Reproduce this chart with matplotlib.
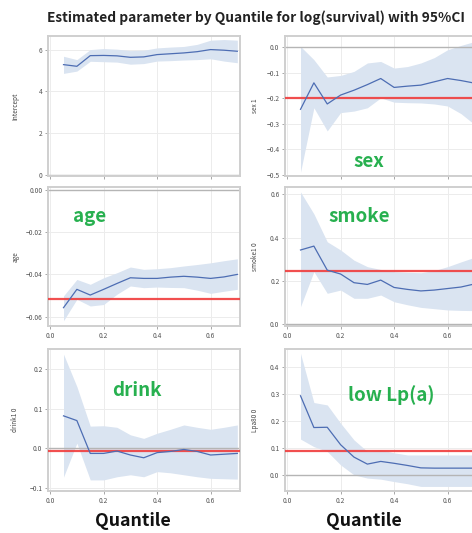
import matplotlib
matplotlib.use("Agg")
import matplotlib.pyplot as plt

plt.rcParams["font.family"] = ["Noto Sans CJK JP", "DejaVu Sans"]

quantiles = [0.05, 0.10, 0.15, 0.20, 0.25, 0.30, 0.35, 0.40, 0.45, 0.50, 0.55, 0.60, 0.65, 0.70]

intercept_est = [5.28, 5.20, 5.71, 5.72, 5.70, 5.63, 5.65, 5.76, 5.80, 5.84, 5.90, 6.00, 5.97, 5.92]
intercept_hi = [5.68, 5.52, 6.00, 6.05, 6.02, 5.95, 5.97, 6.08, 6.12, 6.15, 6.25, 6.45, 6.48, 6.45]
intercept_lo = [4.86, 4.97, 5.44, 5.42, 5.40, 5.30, 5.33, 5.45, 5.47, 5.50, 5.52, 5.56, 5.45, 5.37]

sex_est = [-0.243, -0.139, -0.222, -0.187, -0.168, -0.146, -0.122, -0.157, -0.152, -0.148, -0.135, -0.122, -0.130, -0.140]
sex_hi = [0.004, -0.048, -0.116, -0.110, -0.094, -0.061, -0.055, -0.081, -0.075, -0.061, -0.040, -0.009, 0.008, 0.023]
sex_lo = [-0.490, -0.237, -0.328, -0.256, -0.250, -0.237, -0.198, -0.215, -0.217, -0.218, -0.222, -0.230, -0.260, -0.302]

age_est = [-0.0558, -0.0471, -0.0498, -0.0471, -0.0443, -0.0416, -0.0419, -0.0419, -0.0413, -0.0409, -0.0413, -0.0419, -0.0412, -0.0400]
age_hi = [-0.0502, -0.0424, -0.0447, -0.0416, -0.0392, -0.0365, -0.0376, -0.0373, -0.0368, -0.0360, -0.0353, -0.0345, -0.0335, -0.0326]
age_lo = [-0.0620, -0.0518, -0.0550, -0.0543, -0.0494, -0.0455, -0.0463, -0.0460, -0.0462, -0.0463, -0.0475, -0.0490, -0.0480, -0.0471]

smoke_est = [0.343, 0.361, 0.250, 0.232, 0.192, 0.184, 0.204, 0.170, 0.161, 0.154, 0.158, 0.165, 0.172, 0.186]
smoke_hi = [0.611, 0.510, 0.381, 0.343, 0.296, 0.266, 0.253, 0.243, 0.240, 0.238, 0.248, 0.266, 0.288, 0.309]
smoke_lo = [0.081, 0.243, 0.143, 0.158, 0.120, 0.120, 0.135, 0.104, 0.090, 0.078, 0.072, 0.066, 0.064, 0.063]

drink_est = [0.082, 0.070, -0.013, -0.013, -0.007, -0.017, -0.024, -0.011, -0.008, -0.003, -0.008, -0.017, -0.015, -0.013]
drink_hi = [0.238, 0.156, 0.056, 0.057, 0.053, 0.034, 0.025, 0.038, 0.048, 0.059, 0.053, 0.048, 0.053, 0.059]
drink_lo = [-0.073, 0.013, -0.080, -0.080, -0.072, -0.067, -0.072, -0.059, -0.062, -0.067, -0.072, -0.076, -0.077, -0.078]

lpa_est = [0.294, 0.176, 0.177, 0.112, 0.066, 0.040, 0.050, 0.043, 0.035, 0.026, 0.025, 0.025, 0.025, 0.025]
lpa_hi = [0.452, 0.269, 0.260, 0.192, 0.130, 0.087, 0.093, 0.082, 0.074, 0.074, 0.074, 0.074, 0.074, 0.074]
lpa_lo = [0.133, 0.105, 0.087, 0.037, 0.000, -0.012, -0.016, -0.025, -0.033, -0.043, -0.043, -0.043, -0.043, -0.043]

# OLS reference value for each parameter (red line)
ols_values = [None, -0.2, -0.0515, 0.247, -0.006, 0.09]

param_names = ["Intercept", "sex 1", "age", "smoke1 0", "drink1 0", "Lpa80 0"]
panel_labels = [None, "sex", "age", "smoke", "drink", "low Lp(a)"]
x_ticks = [0.0, 0.2, 0.4, 0.6]
y_ticks = [
    [0, 2, 4, 6],
    [0.0, -0.1, -0.2, -0.3, -0.4, -0.5],
    [0.00, -0.02, -0.04, -0.06],
    [0.0, 0.2, 0.4, 0.6],
    [-0.1, 0.0, 0.1, 0.2],
    [0.0, 0.1, 0.2, 0.3, 0.4],
]
y_fmt = ["{:.0f}", "{:.1f}", "{:.2f}", "{:.1f}", "{:.1f}", "{:.1f}"]
y_lims = [(-0.05, 6.65), (-0.505, 0.045), (-0.0645, 0.0015), (-0.008, 0.634), (-0.108, 0.251), (-0.06, 0.468)]

estimates = [intercept_est, sex_est, age_est, smoke_est, drink_est, lpa_est]
uppers = [intercept_hi, sex_hi, age_hi, smoke_hi, drink_hi, lpa_hi]
lowers = [intercept_lo, sex_lo, age_lo, smoke_lo, drink_lo, lpa_lo]

W, H = 472, 533
# panel boxes in pixels: left, top, right, bottom
col_x = [(48, 240), (285, 477)]
row_y = [(36, 176), (187, 326), (349, 491)]
label_pos = [None, (369, 161), (90, 217), (359, 216), (137, 391), (391, 395)]

LINE = "#4d6db3"
BAND = "#dae4f1"
GREEN = "#27b04f"
FRAME = "#cfcfcf"


def plot_on_ax(ax, i):
    ax.fill_between(quantiles, lowers[i], uppers[i], color=BAND, linewidth=0, zorder=1)
    ax.axhline(0, color="#b5b5b5", linewidth=1.0, zorder=2)
    if ols_values[i] is not None:
        ax.axhline(ols_values[i], color="#f03c3c", linewidth=1.6, alpha=0.9, zorder=3)
    ax.plot(quantiles, estimates[i], color=LINE, linewidth=0.9, zorder=4)

    ax.set_xlim(-0.008, 0.71)
    ax.set_ylim(*y_lims[i])
    ax.set_xticks(x_ticks)
    ax.set_xticklabels([f"{t:.1f}" for t in x_ticks])
    ax.set_yticks(y_ticks[i])
    ax.set_yticklabels([y_fmt[i].format(t).replace("-", "\u2212") for t in y_ticks[i]])
    ax.grid(True, color="#ececec", linewidth=0.7, zorder=0)
    ax.set_axisbelow(True)
    for sp in ax.spines.values():
        sp.set_color(FRAME)
        sp.set_linewidth(1.4)
    ax.tick_params(axis="both", labelsize=4.8, colors="#9a9a9a", labelcolor="#555555",
                   length=2.5, width=0.6, pad=1.5)
    ax.set_ylabel(param_names[i], fontsize=4.6, color="#444444")


fig = plt.figure(figsize=(W / 100, H / 100), dpi=100)

for i in range(6):
    r, c = divmod(i, 2)
    x0, x1 = col_x[c]
    y0, y1 = row_y[r]
    ax = fig.add_axes([x0 / W, 1 - y1 / H, (x1 - x0) / W, (y1 - y0) / H])
    plot_on_ax(ax, i)
    ax.yaxis.set_label_coords(-0.15 if c == 0 else -0.135, 0.5)
    if r == 0:
        ax.tick_params(axis="x", labelbottom=False)
    if panel_labels[i]:
        px, py = label_pos[i]
        fig.text(px / W, 1 - py / H, panel_labels[i], color=GREEN, fontsize=13.5,
                 fontweight="bold", ha="center", va="center")

fig.text(256 / W, 1 - 18 / H, "Estimated parameter by Quantile for log(survival) with 95%CI",
         fontsize=9.9, fontweight="bold", ha="center", va="center", color="#222222")
for cx in (133, 364):
    fig.text(cx / W, 1 - 521 / H, "Quantile", fontsize=12.8, fontweight="bold",
             ha="center", va="center", color="#111111")

fig.savefig("out.png", dpi=100)
plt.close(fig)
